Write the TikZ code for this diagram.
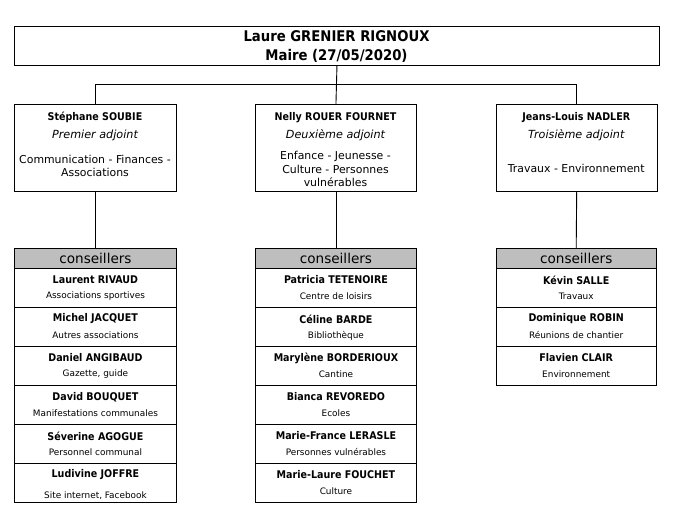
\documentclass[tikz,border=0pt]{standalone}
\usepackage{fontspec}
\setmainfont{DejaVu Sans}
\newfontfamily\cnd{DejaVu Sans Condensed}
\definecolor{hdr}{RGB}{190,190,190}
\begin{document}
\begin{tikzpicture}[x=1pt,y=-1pt,
  box/.style={draw, line width=0.9pt, inner sep=0pt, anchor=north west},
  col/.style={box, minimum width=162pt, minimum height=39pt},
  nm/.style={font=\cnd\bfseries\fontsize{10.6}{12}\selectfont, inner sep=0pt},
  fn/.style={font=\fontsize{8.9}{10}\selectfont, inner sep=0pt},
  it/.style={font=\itshape\fontsize{11.2}{12}\selectfont, inner sep=0pt},
  bd/.style={font=\fontsize{10.9}{13.2}\selectfont, inner sep=0pt, align=center},
  hd/.style={font=\fontsize{13.6}{15}\selectfont, inner sep=0pt},
  ln/.style={line width=0.9pt}]
\useasboundingbox (0,0) rectangle (699,521);
% top
\node[box, minimum width=645pt, minimum height=39pt] (top) at (14,26) {};
\node[font=\cnd\bfseries\fontsize{14.7}{16}\selectfont, inner sep=0pt] (t1) at (336.5,36.5) {Laure GRENIER RIGNOUX};
\node[font=\cnd\bfseries\fontsize{14.7}{16}\selectfont, inner sep=0pt] (t2) at (336.5,55.5) {Maire (27/05/2020)};
% adjoints
\node[box, minimum width=162pt, minimum height=86.7pt] (a1) at (14,104) {};
\node[box, minimum width=161pt, minimum height=86.7pt] (a2) at (255,104) {};
\node[box, minimum width=161.5pt, minimum height=86.7pt] (a3) at (495.5,104) {};
\node[nm] (a1n) at (95,117.5) {Stéphane SOUBIE};
\node[it] (a1i) at (95,135.5) {Premier adjoint};
\node[bd] (a1b) at (95,166) {Communication - Finances -\\Associations};
\node[nm] (a2n) at (335.5,117.5) {Nelly ROUER FOURNET};
\node[it] (a2i) at (335.5,135.5) {Deuxième adjoint};
\node[bd] (a2b) at (335.5,169) {Enfance - Jeunesse -\\Culture - Personnes\\vulnérables};
\node[nm] (a3n) at (576.25,117.5) {Jeans-Louis NADLER};
\node[it] (a3i) at (576.25,135.5) {Troisième adjoint};
\node[bd] (a3b) at (576.25,168) {Travaux - Environnement};
% connectors top
\draw[ln] (top.south) -- (a2.north);
\draw[ln] (a1.north) -- ++(0,-20) -| (a3.north);
% headers
\node[box, minimum width=162pt, minimum height=20pt, fill=hdr] (h1) at (14,248) {};
\node[box, minimum width=161pt, minimum height=20pt, fill=hdr] (h2) at (255,248) {};
\node[box, minimum width=160.5pt, minimum height=20pt, fill=hdr] (h3) at (495.5,248) {};
\node[hd] (h1t) at (h1.center) {conseillers};
\node[hd] (h2t) at (h2.center) {conseillers};
\node[hd] (h3t) at (h3.center) {conseillers};
\draw[ln] (a1.south) -- (h1.north);
\draw[ln] (a2.south) -- (h2.north);
\draw[ln] (a3.south) -- (h3.north);
% left column
\foreach \n/\f/\o [count=\i] in {Laurent RIVAUD/Associations sportives/28.5,
  Michel JACQUET/Autres associations/28.5,
  Daniel ANGIBAUD/{Gazette, guide}/28.5,
  David BOUQUET/Manifestations communales/28.5,
  Séverine AGOGUE/Personnel communal/28.5,
  Ludivine JOFFRE/{Site internet, Facebook}/33}{
  \node[col] (l\i) at (14,{268+39*(\i-1)}) {};
  \node[nm] (l\i n) at ([yshift=-12pt]l\i.north) {\n};
  \node[fn] (l\i f) at ([yshift=-\o pt]l\i.north) {\f};
}
% middle column
\foreach \n/\f [count=\i] in {Patricia TETENOIRE/Centre de loisirs,
  Céline BARDE/Bibliothèque,
  Marylène BORDERIOUX/Cantine,
  Bianca REVOREDO/Ecoles,
  Marie-France LERASLE/Personnes vulnérables,
  Marie-Laure FOUCHET/Culture}{
  \node[col, minimum width=161pt] (m\i) at (255,{268+39*(\i-1)}) {};
  \node[nm] (m\i n) at ([yshift=-12pt]m\i.north) {\n};
  \node[fn] (m\i f) at ([yshift=-28.5pt]m\i.north) {\f};
}
% right column
\foreach \n/\f [count=\i] in {Kévin SALLE/Travaux,
  Dominique ROBIN/Réunions de chantier,
  Flavien CLAIR/Environnement}{
  \node[col, minimum width=160.5pt] (r\i) at (495.5,{268+39*(\i-1)}) {};
  \node[nm] (r\i n) at ([yshift=-12pt]r\i.north) {\n};
  \node[fn] (r\i f) at ([yshift=-28.5pt]r\i.north) {\f};
}
\end{tikzpicture}
\end{document}
